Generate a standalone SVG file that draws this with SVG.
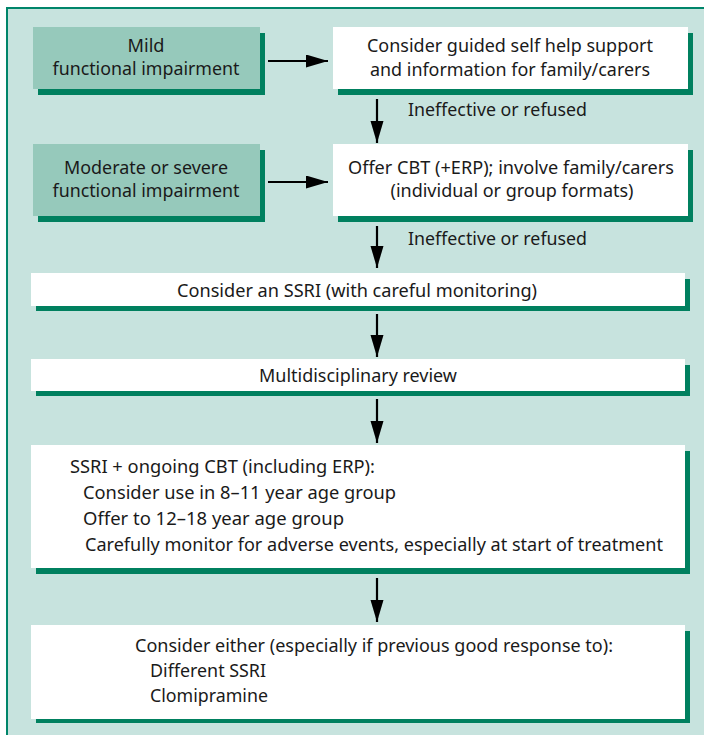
<svg xmlns="http://www.w3.org/2000/svg" width="704" height="735" viewBox="0 0 704 735">
<style>
.t{font-family:"Noto Sans","Open Sans","Liberation Sans",sans-serif;font-size:18px;fill:#1a1a1a}
.m{text-anchor:middle}
.sh{fill:#00805f}
.g{fill:#96c9bb}
.w{fill:#ffffff}
.c{stroke:#000;stroke-width:2.2;fill:none;marker-end:url(#ah)}
</style>
<defs>
<marker id="ah" markerUnits="userSpaceOnUse" markerWidth="23" markerHeight="14" refX="22" refY="6.5" orient="auto">
<path d="M0,0 L22,6.5 L0,13 z" fill="#000"/>
</marker>
</defs>
<rect x="0" y="0" width="704" height="735" fill="#ffffff"/>
<rect x="7" y="8" width="710" height="740" fill="#c7e3de" stroke="#00856a" stroke-width="2"/>

<g id="mild">
<rect class="sh" x="38" y="33" width="227" height="62"/>
<rect class="g" x="33" y="27" width="227" height="62"/>
<text class="t m" x="146" y="52" textLength="37" lengthAdjust="spacingAndGlyphs">Mild</text>
<text class="t m" x="146" y="75" textLength="187" lengthAdjust="spacingAndGlyphs">functional impairment</text>
</g>
<g id="moderate">
<rect class="sh" x="38" y="150" width="227" height="72"/>
<rect class="g" x="33" y="144" width="227" height="72"/>
<text class="t m" x="146" y="174" textLength="164" lengthAdjust="spacingAndGlyphs">Moderate or severe</text>
<text class="t m" x="146" y="197" textLength="187" lengthAdjust="spacingAndGlyphs">functional impairment</text>
</g>
<g id="selfhelp">
<rect class="sh" x="338" y="33" width="355" height="62"/>
<rect class="w" x="333" y="27" width="355" height="62"/>
<text class="t m" x="510" y="52" textLength="286" lengthAdjust="spacingAndGlyphs">Consider guided self help support</text>
<text class="t m" x="510" y="76" textLength="280" lengthAdjust="spacingAndGlyphs">and information for family/carers</text>
</g>
<g id="cbt">
<rect class="sh" x="338" y="150" width="355" height="72"/>
<rect class="w" x="333" y="144" width="355" height="72"/>
<text class="t m" x="511" y="174" textLength="326" lengthAdjust="spacingAndGlyphs">Offer CBT (+ERP); involve family/carers</text>
<text class="t m" x="512" y="197" textLength="243" lengthAdjust="spacingAndGlyphs">(individual or group formats)</text>
</g>
<g id="ssri">
<rect class="sh" x="36" y="279" width="654" height="32"/>
<rect class="w" x="31" y="273" width="654" height="33"/>
<text class="t m" x="357" y="297" textLength="360" lengthAdjust="spacingAndGlyphs">Consider an SSRI (with careful monitoring)</text>
</g>
<g id="review">
<rect class="sh" x="36" y="365" width="654" height="31"/>
<rect class="w" x="31" y="359" width="654" height="32"/>
<text class="t m" x="358" y="382" textLength="198" lengthAdjust="spacingAndGlyphs">Multidisciplinary review</text>
</g>
<g id="combined">
<rect class="sh" x="36" y="451" width="654" height="123"/>
<rect class="w" x="31" y="445" width="654" height="123"/>
<text class="t" x="70" y="473" textLength="305" lengthAdjust="spacingAndGlyphs">SSRI + ongoing CBT (including ERP):</text>
<text class="t" x="83" y="499" textLength="313" lengthAdjust="spacingAndGlyphs">Consider use in 8–11 year age group</text>
<text class="t" x="83" y="525" textLength="261" lengthAdjust="spacingAndGlyphs">Offer to 12–18 year age group</text>
<text class="t" x="85" y="551" textLength="578" lengthAdjust="spacingAndGlyphs">Carefully monitor for adverse events, especially at start of treatment</text>
</g>
<g id="either">
<rect class="sh" x="36" y="631" width="654" height="92"/>
<rect class="w" x="31" y="625" width="654" height="94"/>
<text class="t" x="135" y="652" textLength="478" lengthAdjust="spacingAndGlyphs">Consider either (especially if previous good response to):</text>
<text class="t" x="150" y="677" textLength="116" lengthAdjust="spacingAndGlyphs">Different SSRI</text>
<text class="t" x="150" y="702" textLength="118" lengthAdjust="spacingAndGlyphs">Clomipramine</text>
</g>

<g id="connectors">
<line class="c" x1="268" y1="61" x2="328" y2="61"/>
<line class="c" x1="268" y1="182" x2="328" y2="182"/>
<line class="c" x1="377" y1="99" x2="377" y2="143"/>
<line class="c" x1="377" y1="226" x2="377" y2="268"/>
<line class="c" x1="377" y1="314" x2="377" y2="357"/>
<line class="c" x1="377" y1="399" x2="377" y2="443"/>
<line class="c" x1="377" y1="578" x2="377" y2="622"/>
<text class="t" x="408" y="116" textLength="179" lengthAdjust="spacingAndGlyphs">Ineffective or refused</text>
<text class="t" x="408" y="245" textLength="179" lengthAdjust="spacingAndGlyphs">Ineffective or refused</text>
</g>
</svg>
